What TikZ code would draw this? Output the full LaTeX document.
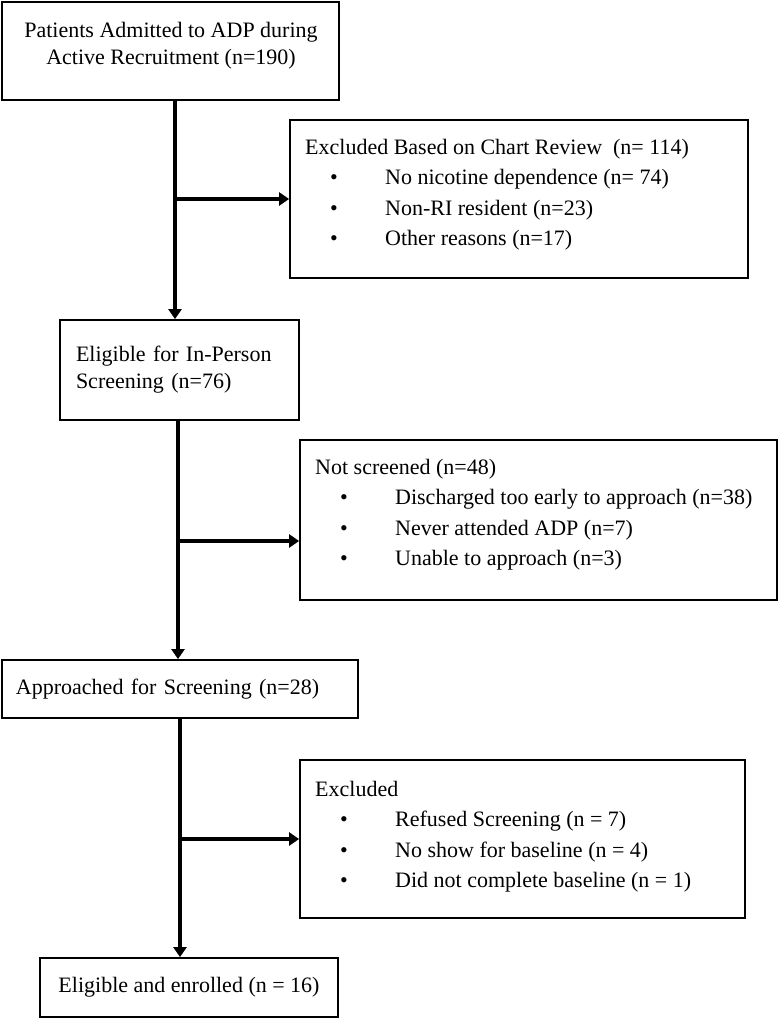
\documentclass[tikz,border=0pt]{standalone}
\usepackage{fontspec}
\setmainfont{Liberation Serif}
\usetikzlibrary{arrows.meta}

\newcommand{\bul}[1]{\hspace*{25pt}\makebox[55pt][l]{\textbullet}#1}

\begin{document}
\begin{tikzpicture}[x=1pt,y=-1pt,
  font=\fontsize{22}{27}\selectfont,
  box/.style={draw=black,line width=1.8pt,inner sep=0pt},
  txt/.style={inner sep=0pt,align=left,font=\fontsize{22}{30.5}\selectfont},
  flow/.style={line width=3.6pt,-{Triangle[length=10pt,width=13pt]}}]
\useasboundingbox (0,0) rectangle (779,1020);
% main column
\node[box,minimum width=337pt,minimum height=98pt] (admit) at (170.5,51) {};
\node[align=center] (admittxt) at (171,46) {Patients Admitted to ADP during\\Active Recruitment (n=190)};
\node[box,minimum width=239pt,minimum height=100pt,text width=207pt,align=left] (elig) at (179.5,370) {Eligible for In-Person\\Screening (n=76)};
\node[box,minimum width=356pt,minimum height=58pt,text width=328pt,align=left] (appr) at (180,689) {Approached for Screening (n=28)};
\node[box,minimum width=298pt,minimum height=59pt] (enrol) at (189,987.5) {Eligible and enrolled (n = 16)};
% exclusion boxes
\node[box,minimum width=458pt,minimum height=158pt] (chart) at (519,199) {};
\node[txt,anchor=north west] (charttxt) at (305,139) {Excluded Based on Chart Review\ \ (n= 114)\\
  \bul{No nicotine dependence (n= 74)}\\
  \bul{Non-RI resident (n=23)}\\
  \bul{Other reasons (n=17)}};
\node[box,minimum width=477pt,minimum height=160pt] (notscr) at (538.5,520) {};
\node[txt,anchor=north west] (notscrtxt) at (315,459) {Not screened (n=48)\\
  \bul{Discharged too early to approach (n=38)}\\
  \bul{Never attended ADP (n=7)}\\
  \bul{Unable to approach (n=3)}};
\node[box,minimum width=445pt,minimum height=158pt] (excl) at (522.5,839) {};
\node[txt,anchor=north west] (excltxt) at (315,781) {Excluded\\
  \bul{Refused Screening (n = 7)}\\
  \bul{No show for baseline (n = 4)}\\
  \bul{Did not complete baseline (n = 1)}};
% connectors
\coordinate (t1) at (175,0);
\coordinate (t2) at (178,0);
\coordinate (t3) at (180,0);
\coordinate (n2) at ([yshift=-21pt]notscr.west);
\draw[flow] (admit.south -| t1) -- (elig.north -| t1);
\draw[flow] (chart.west -| t1) -- (chart.west);
\draw[flow] (elig.south -| t2) -- (appr.north -| t2);
\draw[flow] (n2 -| t2) -- (n2);
\draw[flow] (appr.south -| t3) -- (enrol.north -| t3);
\draw[flow] (excl.west -| t3) -- (excl.west);
\end{tikzpicture}
\end{document}
